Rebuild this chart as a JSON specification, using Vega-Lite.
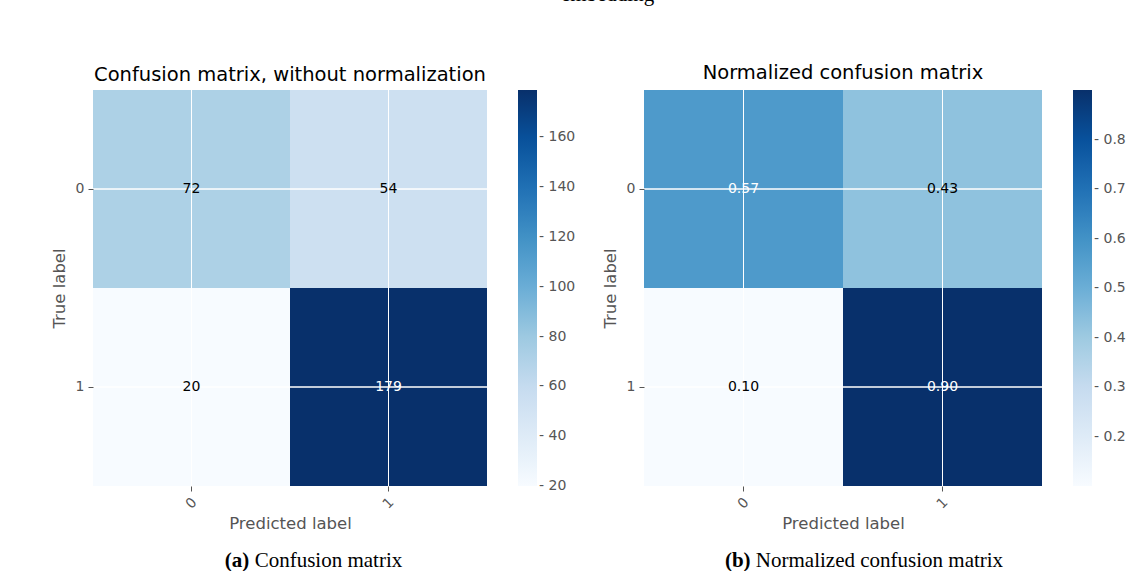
{
  "$schema": "https://vega.github.io/schema/vega-lite/v6.json",
  "padding": {"left": 51, "top": -16, "right": 0, "bottom": 0},
  "background": "white",
  "config": {
    "font": "DejaVu Sans",
    "view": {"stroke": null},
    "axis": {
      "domain": false,
      "grid": false,
      "labelColor": "#555555",
      "labelFontSize": 14,
      "tickColor": "#555555",
      "tickSize": 5,
      "titleColor": "#555555",
      "titleFontSize": 16.5,
      "titleFontWeight": "normal"
    },
    "legend": {
      "orient": "right",
      "offset": 31,
      "padding": 0,
      "title": null,
      "gradientThickness": 19,
      "gradientStrokeWidth": 0,
      "labelColor": "#555555",
      "labelFontSize": 14,
      "labelOffset": 2,
      "labelOverlap": false
    },
    "title": {"fontWeight": "normal", "color": "black"}
  },
  "datasets": {
    "counts": [
      {"actual": "0", "predicted": "0", "count": 72},
      {"actual": "0", "predicted": "1", "count": 54},
      {"actual": "1", "predicted": "0", "count": 20},
      {"actual": "1", "predicted": "1", "count": 179}
    ],
    "rates": [
      {"actual": "0", "predicted": "0", "rate": 0.57},
      {"actual": "0", "predicted": "1", "rate": 0.43},
      {"actual": "1", "predicted": "0", "rate": 0.10},
      {"actual": "1", "predicted": "1", "rate": 0.90}
    ]
  },
  "title": {
    "text": "embedding",
    "font": "Liberation Serif",
    "fontSize": 21,
    "anchor": "middle",
    "frame": "bounds",
    "dx": 19,
    "offset": 58
  },
  "spacing": 26,
  "hconcat": [
    {
      "title": {
        "text": "(a)",
        "orient": "bottom",
        "anchor": "middle",
        "frame": "bounds",
        "align": "left",
        "font": "Liberation Serif",
        "fontSize": 21,
        "fontWeight": "bold",
        "dx": -88.7,
        "dy": -21,
        "offset": 0
      },
      "vconcat": [
        {
          "title": {
            "text": "Confusion matrix",
            "orient": "bottom",
            "anchor": "middle",
            "frame": "bounds",
            "align": "left",
            "font": "Liberation Serif",
            "fontSize": 21,
            "dx": -58.9,
            "offset": 18
          },
          "vconcat": [
            {
              "width": 394,
              "height": 396,
              "title": {
                "text": "Confusion matrix, without normalization",
                "fontSize": 19.5,
                "offset": 4
              },
              "data": {"name": "counts"},
              "layer": [
                {
                  "mark": {"type": "rect"},
                  "encoding": {
                    "x": {
                      "field": "predicted",
                      "type": "nominal",
                      "scale": {"paddingInner": 0, "paddingOuter": 0},
                      "axis": {
                        "title": "Predicted label",
                        "labelAngle": -45,
                        "labelAlign": "center",
                        "labelBaseline": "middle",
                        "labelPadding": 12,
                        "titlePadding": 4
                      }
                    },
                    "y": {
                      "field": "actual",
                      "type": "nominal",
                      "scale": {"paddingInner": 0, "paddingOuter": 0},
                      "axis": {
                        "title": "True label",
                        "labelAngle": 0,
                        "labelPadding": 4,
                        "titlePadding": 8
                      }
                    },
                    "color": {
                      "field": "count",
                      "type": "quantitative",
                      "scale": {
                        "type": "linear",
                        "interpolate": "rgb",
                        "domain": [19.99, 39.875, 59.75, 79.625, 99.5, 119.375, 139.25, 159.125, 179],
                        "range": ["#f7fbff", "#deebf7", "#c6dbef", "#9ecae1", "#6baed6", "#4292c6", "#2171b5", "#08519c", "#08306b"]
                      },
                      "legend": {
                        "gradientLength": 396,
                        "values": [20, 40, 60, 80, 100, 120, 140, 160],
                        "format": "d",
                        "labelExpr": "'- ' + datum.label"
                      }
                    }
                  }
                },
                {
                  "mark": {"type": "rule", "color": "white", "strokeWidth": 1},
                  "encoding": {"x": {"field": "predicted", "type": "nominal"}}
                },
                {
                  "mark": {"type": "rule", "color": "white", "strokeWidth": 1},
                  "encoding": {"y": {"field": "actual", "type": "nominal"}}
                },
                {
                  "mark": {"type": "text", "fontSize": 14, "font": "DejaVu Sans"},
                  "encoding": {
                    "x": {"field": "predicted", "type": "nominal"},
                    "y": {"field": "actual", "type": "nominal"},
                    "text": {"field": "count", "type": "quantitative", "format": "d"},
                    "color": {
                      "condition": {"test": "datum.count > 99.5", "value": "white"},
                      "value": "black"
                    }
                  }
                }
              ]
            }
          ],
          "resolve": {"scale": {"color": "independent"}}
        }
      ],
      "resolve": {"scale": {"color": "independent"}}
    },
    {
      "title": {
        "text": "(b)",
        "orient": "bottom",
        "anchor": "middle",
        "frame": "bounds",
        "align": "left",
        "font": "Liberation Serif",
        "fontSize": 21,
        "fontWeight": "bold",
        "dx": -139.1,
        "dy": -21,
        "offset": 0
      },
      "vconcat": [
        {
          "title": {
            "text": "Normalized confusion matrix",
            "orient": "bottom",
            "anchor": "middle",
            "frame": "bounds",
            "align": "left",
            "font": "Liberation Serif",
            "fontSize": 21,
            "dx": -108.2,
            "offset": 18
          },
          "vconcat": [
            {
              "width": 398,
              "height": 396,
              "title": {
                "text": "Normalized confusion matrix",
                "fontSize": 19.5,
                "offset": 6
              },
              "data": {"name": "rates"},
              "layer": [
                {
                  "mark": {"type": "rect"},
                  "encoding": {
                    "x": {
                      "field": "predicted",
                      "type": "nominal",
                      "scale": {"paddingInner": 0, "paddingOuter": 0},
                      "axis": {
                        "title": "Predicted label",
                        "labelAngle": -45,
                        "labelAlign": "center",
                        "labelBaseline": "middle",
                        "labelPadding": 12,
                        "titlePadding": 4
                      }
                    },
                    "y": {
                      "field": "actual",
                      "type": "nominal",
                      "scale": {"paddingInner": 0, "paddingOuter": 0},
                      "axis": {
                        "title": "True label",
                        "labelAngle": 0,
                        "labelPadding": 4,
                        "titlePadding": 8
                      }
                    },
                    "color": {
                      "field": "rate",
                      "type": "quantitative",
                      "scale": {
                        "type": "linear",
                        "interpolate": "rgb",
                        "domain": [0.1, 0.2, 0.3, 0.4, 0.5, 0.6, 0.7, 0.8, 0.9],
                        "range": ["#f7fbff", "#deebf7", "#c6dbef", "#9ecae1", "#6baed6", "#4292c6", "#2171b5", "#08519c", "#08306b"]
                      },
                      "legend": {
                        "gradientLength": 396,
                        "values": [0.2, 0.3, 0.4, 0.5, 0.6, 0.7, 0.8],
                        "format": ".1f",
                        "labelExpr": "'- ' + datum.label"
                      }
                    }
                  }
                },
                {
                  "mark": {"type": "rule", "color": "white", "strokeWidth": 1},
                  "encoding": {"x": {"field": "predicted", "type": "nominal"}}
                },
                {
                  "mark": {"type": "rule", "color": "white", "strokeWidth": 1},
                  "encoding": {"y": {"field": "actual", "type": "nominal"}}
                },
                {
                  "mark": {"type": "text", "fontSize": 14, "font": "DejaVu Sans"},
                  "encoding": {
                    "x": {"field": "predicted", "type": "nominal"},
                    "y": {"field": "actual", "type": "nominal"},
                    "text": {"field": "rate", "type": "quantitative", "format": ".2f"},
                    "color": {
                      "condition": {"test": "datum.rate > 0.45", "value": "white"},
                      "value": "black"
                    }
                  }
                }
              ]
            }
          ],
          "resolve": {"scale": {"color": "independent"}}
        }
      ],
      "resolve": {"scale": {"color": "independent"}}
    }
  ],
  "resolve": {"scale": {"color": "independent"}}
}
